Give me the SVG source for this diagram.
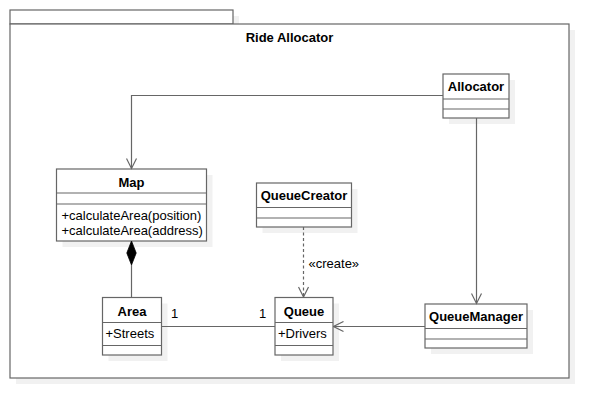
<svg xmlns="http://www.w3.org/2000/svg" width="609" height="418" viewBox="0 0 609 418">
<style>
.sh{fill:#f1f1f1;stroke:none}
.box{fill:#fff;stroke:#666;stroke-width:1.2}
.ln{fill:none;stroke:#666;stroke-width:1.2}
.t{font-family:"Liberation Sans",Arial,sans-serif;font-size:13px;fill:#000}
.b{font-weight:bold;text-anchor:middle}
</style>
<defs>
<marker id="open" viewBox="0 0 12 12" refX="11" refY="6" markerWidth="12" markerHeight="12" markerUnits="userSpaceOnUse" orient="auto">
<path d="M1,1 L11,6 L1,11" fill="none" stroke="#666" stroke-width="1.2"/>
</marker>
</defs>
<rect width="609" height="418" fill="#fff"/>
<g id="package">
<rect class="sh" x="16" y="16" width="223" height="14"/>
<rect class="sh" x="16" y="30" width="559" height="354"/>
<rect class="box" x="10" y="10" width="223" height="14"/>
<rect class="box" x="10" y="24" width="559" height="354"/>
<text class="t b" x="289.5" y="42">Ride Allocator</text>
</g>
<g id="Allocator">
<rect class="sh" x="449" y="80" width="66" height="44"/>
<rect class="box" x="443" y="74" width="66" height="44"/>
<line class="ln" x1="443" y1="99" x2="509" y2="99"/>
<line class="ln" x1="443" y1="109" x2="509" y2="109"/>
<text class="t b" x="476" y="91">Allocator</text>
</g>
<g id="Map">
<rect class="sh" x="62.5" y="175" width="150" height="72"/>
<rect class="box" x="56.5" y="169" width="150" height="72"/>
<line class="ln" x1="56.5" y1="193" x2="206.5" y2="193"/>
<line class="ln" x1="56.5" y1="204" x2="206.5" y2="204"/>
<text class="t b" x="131.5" y="186.5">Map</text>
<text class="t" x="61.5" y="219.5">+calculateArea(position)</text>
<text class="t" x="61.5" y="234.5">+calculateArea(address)</text>
</g>
<g id="QueueCreator">
<rect class="sh" x="262.5" y="189" width="95" height="44"/>
<rect class="box" x="256.5" y="183" width="95" height="44"/>
<line class="ln" x1="256.5" y1="207.5" x2="351.5" y2="207.5"/>
<line class="ln" x1="256.5" y1="218" x2="351.5" y2="218"/>
<text class="t b" x="304" y="200">QueueCreator</text>
</g>
<g id="Area">
<rect class="sh" x="108.5" y="303.5" width="59" height="57.5"/>
<rect class="box" x="102.5" y="297.5" width="59" height="57.5"/>
<line class="ln" x1="102.5" y1="322.5" x2="161.5" y2="322.5"/>
<line class="ln" x1="102.5" y1="345.5" x2="161.5" y2="345.5"/>
<text class="t b" x="132" y="315.5">Area</text>
<text class="t" x="105.5" y="338">+Streets</text>
</g>
<g id="Queue">
<rect class="sh" x="281" y="303.5" width="58" height="57.5"/>
<rect class="box" x="275" y="297.5" width="58" height="57.5"/>
<line class="ln" x1="275" y1="322.5" x2="333" y2="322.5"/>
<line class="ln" x1="275" y1="345.5" x2="333" y2="345.5"/>
<text class="t b" x="304" y="315.5">Queue</text>
<text class="t" x="278" y="338">+Drivers</text>
</g>
<g id="QueueManager">
<rect class="sh" x="431" y="310" width="102" height="44"/>
<rect class="box" x="425" y="304" width="102" height="44"/>
<line class="ln" x1="425" y1="328.5" x2="527" y2="328.5"/>
<line class="ln" x1="425" y1="339" x2="527" y2="339"/>
<text class="t b" x="476" y="321">QueueManager</text>
</g>
<g id="connectors">
<polyline class="ln" points="443,95.5 131.5,95.5 131.5,168.5" marker-end="url(#open)"/>
<line class="ln" x1="476.5" y1="118" x2="476.5" y2="303.5" marker-end="url(#open)"/>
<line class="ln" x1="425" y1="326.5" x2="333.5" y2="326.5" marker-end="url(#open)"/>
<line class="ln" x1="303.5" y1="227" x2="303.5" y2="297" stroke-dasharray="3 2.5" marker-end="url(#open)"/>
<text class="t" x="308.5" y="267.5">«create»</text>
<line class="ln" x1="131.5" y1="265" x2="131.5" y2="297.5"/>
<path d="M131.5,241 L136.2,253 L131.5,265 L126.8,253 Z" fill="#000" stroke="#000" stroke-width="0.8"/>
<line class="ln" x1="161.5" y1="326.5" x2="275" y2="326.5"/>
<text class="t" x="174.5" y="317.5" text-anchor="middle">1</text>
<text class="t" x="262.5" y="317.5" text-anchor="middle">1</text>
</g>
</svg>
